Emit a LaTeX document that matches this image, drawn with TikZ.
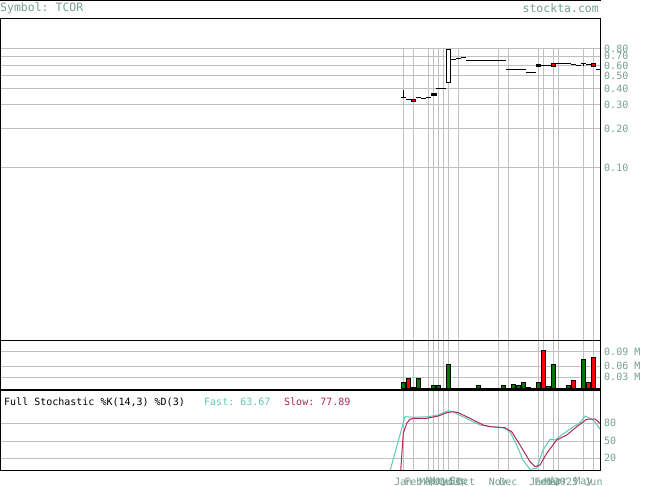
\documentclass[tikz,border=0pt]{standalone}
\usepackage{fontspec}
\setmonofont{DejaVu Sans Mono}
\definecolor{axisc}{RGB}{118,160,144}
\definecolor{gridc}{RGB}{192,192,192}
\definecolor{fastc}{RGB}{95,200,185}
\definecolor{slowc}{RGB}{178,40,90}
\definecolor{volg}{RGB}{0,120,0}
\definecolor{volr}{RGB}{255,0,0}
\tikzset{
  gridline/.style={draw=gridc, line width=1pt},
  frame/.style={draw=black, line width=1pt},
  axlabel/.style={font=\ttfamily\fontsize{10}{10}\selectfont, text=axisc, inner sep=0pt, anchor=west},
  datelabel/.style={font=\ttfamily\fontsize{10}{10}\selectfont, text=axisc, inner sep=0pt, anchor=center},
  hdr/.style={font=\ttfamily\fontsize{11.5}{11.5}\selectfont, text=axisc, inner sep=0pt},
  candle/.style={draw=black, line width=1pt},
  gbar/.style={draw=black, line width=0.8pt, fill=volg},
  rbar/.style={draw=black, line width=0.8pt, fill=volr},
}
\begin{document}
\begin{tikzpicture}[x=1pt,y=-1pt]
\useasboundingbox (0,0) rectangle (655,486);
\fill[white] (0,0) rectangle (655,486);
% header
\draw[frame] (0,0.5) -- (600.5,0.5);
\node[hdr, anchor=west] (sym) at (0,8) {Symbol: TCOR};
\node[hdr, anchor=east] (site) at (599,8) {stockta.com};
% ---------- price panel grid
\foreach \y in {48.8,56.4,65.3,75.7,88.5,105.0,128.3,168.0} \draw[gridline] (0.5,\y) -- (600.5,\y);
\foreach \x in {403.3,413.3,428.5,433.5,438.5,443.5,448.5,458.3,498,508.3,538.3,543.5,553.3,558.5,583.5,593.5} {
  \draw[gridline] (\x,48.8) -- (\x,340.5);
  \draw[gridline] (\x,340.5) -- (\x,389.5);
  \draw[gridline] (\x,389.5) -- (\x,470);
}
% volume grid
\foreach \y in {351.7,366,377.3} \draw[gridline] (0.5,\y) -- (600.5,\y);
% stoch grid
\foreach \y in {423,441,458.3} \draw[gridline] (0.5,\y) -- (600.5,\y);
% price labels
\foreach \t/\y [count=\i] in {0.80/49,0.70/56,0.60/65.7,0.50/75.7,0.40/89.3,0.30/104.7,0.20/128.7,0.10/168}
  \node[axlabel] (pl\i) at (604,\y) {\t};
% volume labels
\foreach \t/\y [count=\i] in {0.09 M/351.7,0.06 M/366,0.03 M/377.3}
  \node[axlabel] (vl\i) at (604,\y) {\t};
% stoch labels
\foreach \t/\y [count=\i] in {80/423,50/441,20/458.3}
  \node[axlabel] (sl\i) at (604,\y) {\t};
% date labels
\foreach \t/\x [count=\i] in {Jan/403.3,Feb/413.3,Mar/428.5,Apr/433.5,May/438.5,Jun/443.5,Jul/448.5,13/454.5,Sep/458.3,Oct/466,Nov/498,Dec/508.3,Jan/538.3,Feb/543.5,Mar/553.3,Apr/558.5,2025/566,May/583.5,Jun/593.5}
  \node[datelabel] (dl\i) at (\x,481.5) {\t};
% ---------- candles
\draw[candle] (401,97.3) -- (406,97.3);
\draw[candle] (403.3,90) -- (403.3,97.3);
\draw[candle] (406,100) -- (411,100);
\draw[candle, fill=volr, line width=0.8pt] (411,99) rectangle (415.7,101.5);
\draw[candle] (415.7,97.3) -- (421,97.3);
\draw[candle] (421,98.3) -- (426,98.3);
\draw[candle] (426,97.3) -- (431,97.3);
\draw[candle, fill=black] (431,94) rectangle (436,96);
\draw[candle] (436,89) -- (446,89);
\draw[candle, fill=white] (446.5,50) rectangle (450.3,82.3);
\draw[candle] (450.3,60) -- (456,60);
\draw[candle] (456,59) -- (461,59);
\draw[candle] (461,58) -- (466,58);
\draw[candle] (466,60.3) -- (505.7,60.3);
\draw[candle] (506,69.3) -- (525.7,69.3);
\draw[candle] (526,73) -- (535.7,73);
\draw[candle, fill=black] (536,65) rectangle (540.7,66.5);
\draw[candle] (540.7,66) -- (551,66);
\draw[candle, fill=volr, line width=0.8pt] (551,63.3) rectangle (555.7,66.3);
\draw[candle] (555.7,63.3) -- (570.7,63.3);
\draw[candle] (570.7,64.3) -- (575.7,64.3);
\draw[candle] (575.7,65.3) -- (580.7,65.3);
\draw[candle] (580.7,63.7) -- (585.7,63.7);
\draw[candle] (583.2,63.7) -- (583.2,65.8);
\draw[candle] (585.7,64.3) -- (591,64.3);
\draw[candle, fill=volr, line width=0.8pt] (591,63.3) rectangle (595.7,66.3);
\draw[candle] (595.7,69.3) -- (600,69.3);
% ---------- volume bars
\foreach \x/\t/\s in {401/382.3/g,406/378.3/r,411/387.3/r,416.3/378.3/g,426/388.3/g,431/385.7/g,436.3/385.7/g,446/364.3/g,466/388.3/r,476/385.7/g,491/388.3/g,501/385.7/g,511/384.3/g,516/385.7/g,521/382.3/g,526/387.3/r,536/382.3/g,541/350/r,546/386.3/g,551/364.3/g,566/385.3/g,571/380.3/r,581/359.3/g,586/382.3/r,591/357.3/r}
  \draw[\s bar] (\x,389.3) rectangle ({\x+4.3},\t);
\draw[black, line width=1.2pt] (401,389) -- (600,389);
% ---------- stochastic lines
\begin{scope}
\clip (0.5,389.5) rectangle (600.5,470);
\draw[fastc, line width=1pt] (390,471) -- (405,416.7) -- (413.3,417.3) -- (428.3,416.7) -- (438,415) -- (448.3,410.7) -- (453,411.7) -- (463,416.7) -- (480,425) -- (486.7,426) -- (503,427.7) -- (510,431.7) -- (516.7,445) -- (523,460) -- (530,469.3) -- (536.7,468.3) -- (543,450) -- (550,439.3) -- (555,440) -- (561.7,435) -- (573.3,426.7) -- (580,422.7) -- (585,416) -- (590,418.3) -- (595,421.7) -- (600,429.3);
\draw[slowc, line width=1pt] (400.7,471) -- (403.3,433.3) -- (406.7,423.3) -- (410,419.3) -- (415,418.3) -- (426.7,418.3) -- (438.3,416) -- (446.7,412.7) -- (453.3,411.7) -- (458.3,412.7) -- (470,418.3) -- (483.3,425) -- (490,426.7) -- (505,427.7) -- (511.7,431.7) -- (520,445) -- (530,461.7) -- (535,466.7) -- (540,465) -- (546.7,453.3) -- (556.7,440) -- (566.7,435) -- (576.7,426.7) -- (586.7,419.3) -- (595,419) -- (600,423.3);
\end{scope}
% stoch title
\node[font=\ttfamily\fontsize{10}{10}\selectfont, inner sep=0pt, anchor=west] (stt) at (4,402) {Full Stochastic \%K(14,3) \%D(3)};
\node[font=\ttfamily\fontsize{10}{10}\selectfont, inner sep=0pt, anchor=west, text=fastc] (fast) at (204,402) {Fast: 63.67};
\node[font=\ttfamily\fontsize{10}{10}\selectfont, inner sep=0pt, anchor=west, text=slowc] (slow) at (284,402) {Slow: 77.89};
% ---------- frames
\draw[frame] (0.5,18.5) rectangle (600.5,340.5);
\draw[frame] (0.5,340.5) rectangle (600.5,389.5);
\draw[frame] (0.5,390.5) rectangle (600.5,470);
\end{tikzpicture}
\end{document}
